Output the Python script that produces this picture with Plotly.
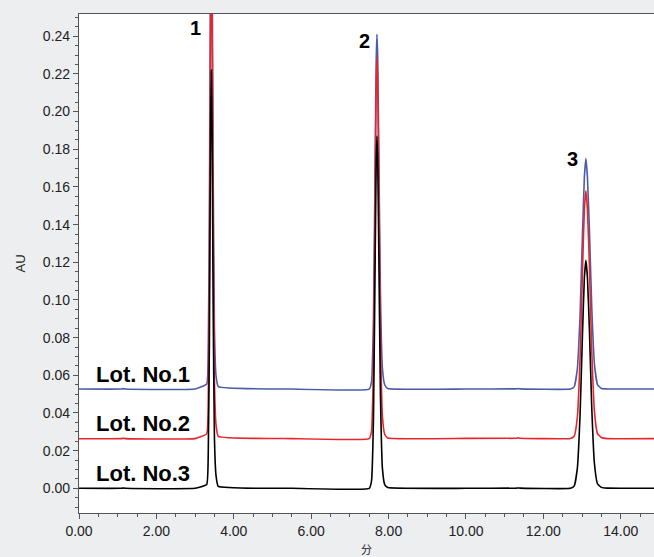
import plotly.graph_objects as go

# Retention times (min) at which the traces were read
time_min = [
    0.00, 1.10, 1.15, 1.20, 3.00, 3.30,
    3.34, 3.37, 3.40, 3.42, 3.44, 3.47, 3.50, 3.54, 3.60,
    5.50, 7.50, 7.56, 7.61, 7.65, 7.68, 7.70, 7.72, 7.75, 7.79, 7.84, 7.90, 7.98,
    10.00, 11.30, 11.35, 11.40, 12.70,
    12.80, 12.88, 12.95, 13.01, 13.06, 13.10, 13.14, 13.19, 13.25, 13.32, 13.40, 13.50, 13.65,
    15.00,
]

# Absorbance (AU) for each lot
lot1_au = [
    0.0527, 0.0527, 0.0529, 0.0527, 0.0527, 0.0554,
    0.0740, 0.1460, 0.2800, 0.3200, 0.2800, 0.1600, 0.0850, 0.0600, 0.0540,
    0.0527, 0.0527, 0.0565, 0.0900, 0.1670, 0.2260, 0.2410, 0.2280, 0.1750, 0.1030, 0.0640, 0.0550, 0.0530,
    0.0527, 0.0528, 0.0529, 0.0528, 0.0527,
    0.0540, 0.0636, 0.0924, 0.1340, 0.1650, 0.1750, 0.1650, 0.1380, 0.0970, 0.0660, 0.0550, 0.0530, 0.0528,
    0.0527,
]
lot2_au = [
    0.0263, 0.0264, 0.0266, 0.0264, 0.0264, 0.0289,
    0.0470, 0.1170, 0.2470, 0.2860, 0.2470, 0.1300, 0.0570, 0.0340, 0.0276,
    0.0264, 0.0264, 0.0304, 0.0669, 0.1500, 0.2130, 0.2290, 0.2150, 0.1580, 0.0810, 0.0385, 0.0287, 0.0267,
    0.0265, 0.0266, 0.0268, 0.0266, 0.0265,
    0.0278, 0.0380, 0.0690, 0.1140, 0.1480, 0.1580, 0.1480, 0.1190, 0.0740, 0.0410, 0.0290, 0.0270, 0.0264,
    0.0264,
]
lot3_au = [
    0.0000, 0.0000, 0.0002, 0.0000, 0.0000, 0.0020,
    0.0180, 0.0780, 0.1890, 0.2220, 0.1890, 0.0890, 0.0270, 0.0070, 0.0010,
    0.0000, 0.0000, 0.0040, 0.0370, 0.1140, 0.1720, 0.1870, 0.1740, 0.1220, 0.0500, 0.0110, 0.0020, 0.0004,
    0.0000, 0.0001, 0.0002, 0.0001, 0.0000,
    0.0013, 0.0108, 0.0393, 0.0807, 0.1117, 0.1210, 0.1117, 0.0847, 0.0436, 0.0133, 0.0024, 0.0005, 0.0001,
    0.0000,
]

series_names = ["Lot. No.1", "Lot. No.2", "Lot. No.3"]
series_colors = ["#4D5BAA", "#E5262E", "#000000"]

peak_labels = ["1", "2", "3"]
peak_label_x = [3.20, 7.57, 12.94]
peak_label_y = [0.2443, 0.2375, 0.1750]

lot_label_x = [0.38, 0.38, 0.38]
lot_label_y = [0.0603, 0.0343, 0.0077]

x_tickvals = [0, 2, 4, 6, 8, 10, 12, 14]
y_tickvals = [0.00, 0.02, 0.04, 0.06, 0.08, 0.10, 0.12, 0.14, 0.16, 0.18, 0.20, 0.22, 0.24]

fig = go.Figure()
for name, color, vals in zip(series_names, series_colors, [lot1_au, lot2_au, lot3_au]):
    fig.add_trace(go.Scatter(
        x=time_min, y=vals, mode="lines", name=name,
        line=dict(color=color, width=1.6, shape="spline", smoothing=0.35),
        showlegend=False, hoverinfo="skip",
    ))

for txt, x, y in zip(peak_labels, peak_label_x, peak_label_y):
    fig.add_annotation(x=x, y=y, text="<b>" + txt + "</b>", showarrow=False,
                       xanchor="right", yanchor="middle",
                       font=dict(family="Liberation Sans, Arial", size=20, color="#000"))

for txt, x, y in zip(series_names, lot_label_x, lot_label_y):
    fig.add_annotation(x=x, y=y, text="<b>" + txt + "</b>", showarrow=False,
                       xanchor="left", yanchor="middle",
                       font=dict(family="Liberation Sans, Arial", size=22, color="#000"))

axis_font = dict(family="Liberation Sans, Arial", size=14, color="#222")

fig.update_layout(
    width=654, height=557,
    margin=dict(l=79, r=0, t=14, b=44),
    paper_bgcolor="#EDEEF0",
    plot_bgcolor="#FFFFFF",
    font=axis_font,
    xaxis=dict(
        range=[0, 14.86], tickvals=x_tickvals, tickformat=".2f",
        automargin=False,
        showgrid=False, zeroline=False,
        showline=True, linecolor="#555", linewidth=1.2, mirror=True,
        ticks="outside", ticklen=5, tickcolor="#555", tickwidth=1,
        minor=dict(dtick=0.5, tick0=0, ticks="outside", ticklen=3, tickcolor="#555", showgrid=False),
        tickfont=axis_font,
        title=dict(text="分", font=dict(family="Noto Sans CJK SC", size=11, color="#222"), standoff=14),
    ),
    yaxis=dict(
        range=[-0.0131, 0.2518], tickvals=y_tickvals, tickformat=".2f",
        automargin=False,
        showgrid=False, zeroline=False,
        showline=True, linecolor="#555", linewidth=1.2,
        ticks="outside", ticklen=5, tickcolor="#555", tickwidth=1,
        minor=dict(dtick=0.005, tick0=0, ticks="outside", ticklen=3, tickcolor="#555", showgrid=False),
        tickfont=axis_font,
        title=dict(text="AU", font=dict(family="Liberation Sans, Arial", size=13, color="#222"), standoff=14),
    ),
)

fig.write_html(
    "out.html",
    config={"displayModeBar": False},
    post_script="document.body.style.margin='0';document.body.style.overflow='hidden';",
)
